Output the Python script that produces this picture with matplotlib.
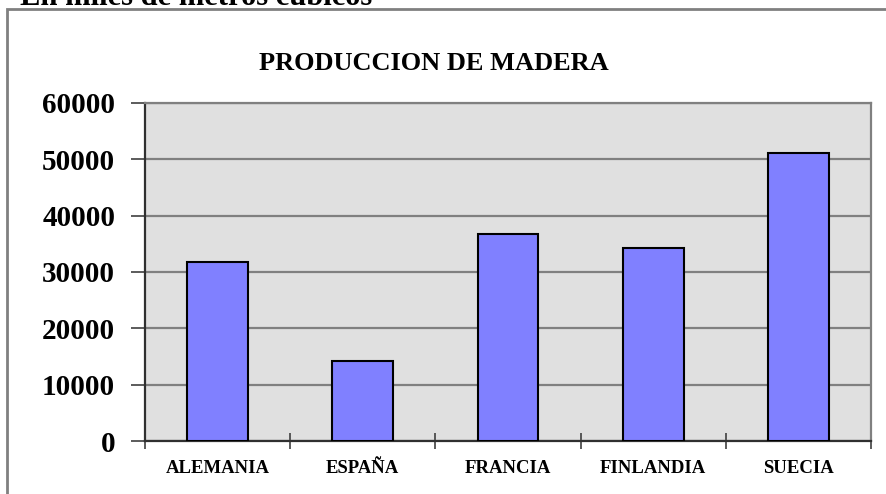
import matplotlib.pyplot as plt
from matplotlib.patches import Rectangle
import numpy as np

paises = ['ALEMANIA', 'ESPAÑA', 'FRANCIA', 'FINLANDIA', 'SUECIA']
produccion = [31700, 14200, 36700, 34200, 51200]
y_ticks = [0, 10000, 20000, 30000, 40000, 50000, 60000]

plt.rcParams['axes.unicode_minus'] = False

fig = plt.figure(figsize=(8.86, 4.94), dpi=100)
W, H = 886, 494

# marco exterior del grafico
fig.patches.append(Rectangle((7 / W, -0.1), 1.2, (H - 9) / H + 0.1, transform=fig.transFigure,
                             fill=False, edgecolor='#808080', linewidth=2))

# texto de arriba, cortado por el borde como en el original
fig.text(20 / W, 1 - 5 / H, 'En miles de metros cúbicos', fontsize=22, fontweight='bold',
         family='Liberation Serif', ha='left', va='baseline')
fig.text(434 / W, 1 - 63 / H, 'PRODUCCION DE MADERA', fontsize=19, fontweight='bold',
         family='Liberation Serif', ha='center', va='center')

ax = fig.add_axes([145 / W, 1 - 441 / H, (871 - 145) / W, (441 - 103) / H])
ax.set_facecolor('#E0E0E0')

x = np.arange(len(paises))
ax.bar(x, produccion, width=0.42, color='#8080FF', edgecolor='black', linewidth=1.5, zorder=3)

ax.set_xlim(-0.5, len(paises) - 0.5)
ax.set_ylim(0, 60000)
ax.set_yticks(y_ticks)
ax.set_yticklabels([str(v) for v in y_ticks], fontsize=21, fontweight='bold', family='Liberation Serif')
ax.yaxis.grid(True, color='#808080', linewidth=1.6, zorder=1)
ax.set_axisbelow(True)

ax.set_xticks(x)
ax.set_xticklabels(paises, fontsize=13.5, fontweight='bold', family='Liberation Serif')
ax.set_xticks(np.arange(-0.5, len(paises)), minor=True)
ax.tick_params(axis='x', which='major', length=0, pad=14)
ax.tick_params(axis='x', which='minor', length=12, direction='inout', color='#404040', width=1.2)
ax.tick_params(axis='y', which='major', length=10, color='#404040', width=1.2, pad=11.5)

for side in ['left', 'bottom']:
    ax.spines[side].set_color('#303030')
    ax.spines[side].set_linewidth(1.6)
for side in ['right', 'top']:
    ax.spines[side].set_color('#808080')
    ax.spines[side].set_linewidth(1.6)

fig.savefig('out.png', dpi=100)
